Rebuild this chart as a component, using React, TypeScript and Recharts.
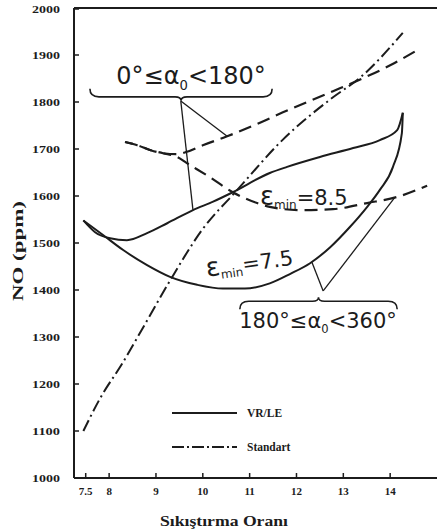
import { Legend, Line, LineChart, ReferenceDot, ReferenceLine, XAxis, YAxis } from "recharts";

type Pt = { x: number; y: number };
const pts = (rows: number[][]): Pt[] => rows.map(([x, y]) => ({ x, y }));

// Standart engine (dash-dot)
const standart = pts([
  [7.45, 1100], [7.81, 1170], [8.27, 1242], [8.81, 1335], [9.3, 1420], [10.0, 1530],
  [10.71, 1610], [11.71, 1720], [12.78, 1810], [13.36, 1852], [14.27, 1947],
]);

// VR/LE, two solid branches meeting at both ends
const vrUpper = pts([
  [7.45, 1548], [7.7, 1523], [8.02, 1510], [8.38, 1506], [8.81, 1521], [9.24, 1542],
  [9.79, 1570], [10.22, 1588], [10.64, 1608], [11.43, 1649], [11.8, 1662], [12.5, 1683],
  [13.21, 1702], [13.78, 1719], [14.15, 1740], [14.27, 1777],
]);
const vrLower = pts([
  [7.45, 1548], [7.87, 1517], [8.3, 1485], [8.81, 1453], [9.3, 1428], [9.88, 1411],
  [10.43, 1403], [10.9, 1403], [11.43, 1414], [11.86, 1434], [12.29, 1457],
  [12.72, 1491], [13.14, 1534], [13.51, 1577], [13.78, 1613], [14.06, 1662],
  [14.25, 1734], [14.27, 1777],
]);

// dashed branches (no legend entry)
const dashUpper = pts([
  [8.34, 1715], [8.6, 1708], [8.87, 1698], [9.15, 1691], [9.45, 1689], [9.66, 1694],
  [10.0, 1708], [10.52, 1727], [11.22, 1756], [11.71, 1778], [12.78, 1823],
  [13.36, 1848], [14.0, 1878], [14.59, 1911],
]);
const dashLower = pts([
  [8.34, 1715], [8.6, 1708], [8.87, 1698], [9.15, 1691], [9.45, 1683], [9.66, 1670],
  [10.15, 1640], [10.64, 1608], [11.16, 1585], [11.43, 1577], [12.07, 1570],
  [12.78, 1572], [13.51, 1585], [14.15, 1598], [14.79, 1622],
]);

const xTicks = [7.5, 8, 9, 10, 11, 12, 13, 14];
const yTicks = [1000, 1100, 1200, 1300, 1400, 1500, 1600, 1700, 1800, 1900, 2000];

const legendItems = [
  { name: "VR/LE", dash: undefined as string | undefined },
  { name: "Standart", dash: "12 3 2 3" },
];

const INK = "#1c1c1c";
const SERIF = '"Liberation Serif", "Times New Roman", serif';
const HAND = '"DejaVu Sans", sans-serif';
const DASHDOT = "12 4 2 4";
const DASH = "13 7";

function XTick({ x, y, payload }: any) {
  const ay = y - 4;
  return (
    <g>
      <line x1={x} y1={ay} x2={x} y2={ay - 5} stroke={INK} strokeWidth={1.5} />
      <text x={x} y={ay + 17} textAnchor="middle" fontFamily={SERIF} fontWeight="bold" fontSize={11} fill={INK}>
        {payload.value}
      </text>
    </g>
  );
}

function YTick({ x, y, payload }: any) {
  const ax = x + 14;
  return (
    <g>
      <line x1={ax} y1={y} x2={ax + 5} y2={y} stroke={INK} strokeWidth={1.5} />
      <text
        x={x}
        y={y}
        dy="0.35em"
        textAnchor="end"
        textLength={28}
        lengthAdjust="spacingAndGlyphs"
        fontFamily={SERIF}
        fontWeight="bold"
        fontSize={11}
        fill={INK}
      >
        {payload.value}
      </text>
    </g>
  );
}

// curly brace between the segment ends; dir=1 tip points down
const brace = (dir: number) => (p: any) => {
  const { x1, x2, y1: y } = p;
  const a = Math.min(x1, x2);
  const b = Math.max(x1, x2);
  const m = (a + b) / 2;
  const e = y - 8 * dir;
  const t = y + 4 * dir;
  const d = `M${a},${e} Q${a},${y} ${a + 9},${y} L${m - 6},${y} Q${m},${y} ${m},${t} Q${m},${y} ${m + 6},${y} L${b - 9},${y} Q${b},${y} ${b},${e}`;
  return <path d={d} fill="none" stroke={INK} strokeWidth={1.6} />;
};

const alphaLabel = (lo: string, hi: string, size: number) => (p: any) => (
  <text x={p.cx} y={p.cy} textAnchor="middle" fontFamily={HAND} fontSize={size} fill={INK}>
    <tspan>{lo}≤α</tspan>
    <tspan fontSize={size * 0.55} dy={size * 0.25}>0</tspan>
    <tspan dy={-size * 0.25}>{"<" + hi}</tspan>
  </text>
);

const epsLabel = (val: string, rot: number) => (p: any) => (
  <text
    x={p.cx}
    y={p.cy}
    fontFamily={HAND}
    fontSize={21}
    fill={INK}
    transform={`rotate(${rot} ${p.cx} ${p.cy})`}
  >
    <tspan fontSize={26}>ε</tspan>
    <tspan fontSize={12} dy={4}>min</tspan>
    <tspan dy={-4}>{"=" + val}</tspan>
  </text>
);

function LegendBox() {
  return (
    <svg width={140} height={60}>
      {legendItems.map((it, i) => (
        <g key={it.name}>
          <line x1={4} x2={69} y1={13 + i * 34} y2={13 + i * 34} stroke={INK} strokeWidth={2} strokeDasharray={it.dash} />
          <text x={79} y={17 + i * 34} fontFamily={SERIF} fontWeight="bold" fontSize={11.5} fill={INK}>
            {it.name}
          </text>
        </g>
      ))}
    </svg>
  );
}

export default function App() {
  return (
    <div style={{ position: "absolute", left: 0, top: 0, background: "#fff" }}>
      <LineChart width={437} height={529} margin={{ top: 8, right: 0, bottom: 0, left: 0 }}>
        <XAxis
          type="number"
          dataKey="x"
          domain={[7.25, 15]}
          ticks={xTicks}
          allowDataOverflow
          height={51}
          tickSize={0}
          tickMargin={4}
          tickLine={false}
          axisLine={{ stroke: INK, strokeWidth: 2 }}
          tick={XTick}
          label={{
            content: (p: any) => (
              <text
                x={p.viewBox.x + 150}
                y={p.viewBox.y + 48}
                textAnchor="middle"
                textLength={128}
                lengthAdjust="spacingAndGlyphs"
                fontFamily={SERIF}
                fontWeight="bold"
                fontSize={15}
                fill={INK}
              >
                Sıkıştırma Oranı
              </text>
            ),
          }}
        />
        <YAxis
          type="number"
          domain={[1000, 2000]}
          ticks={yTicks}
          allowDataOverflow
          width={74}
          tickSize={0}
          tickMargin={14}
          tickLine={false}
          axisLine={{ stroke: INK, strokeWidth: 2 }}
          tick={YTick}
          label={{
            content: (p: any) => {
              const cx = p.viewBox.x + 23;
              const cy = p.viewBox.y + p.viewBox.height / 2 + 8;
              return (
                <text
                  x={cx}
                  y={cy}
                  textAnchor="middle"
                  transform={`rotate(-90 ${cx} ${cy})`}
                  textLength={100}
                  lengthAdjust="spacingAndGlyphs"
                  fontFamily={SERIF}
                  fontWeight="bold"
                  fontSize={15}
                  fill={INK}
                >
                  NO (ppm)
                </text>
              );
            },
          }}
        />
        <ReferenceLine y={2000} stroke={INK} strokeWidth={2} />

        <Line data={standart} dataKey="y" type="monotone" stroke={INK} strokeWidth={2} strokeDasharray={DASHDOT} dot={false} isAnimationActive={false} legendType="none" />
        <Line data={vrUpper} dataKey="y" type="monotone" stroke={INK} strokeWidth={2} dot={false} isAnimationActive={false} legendType="none" />
        <Line data={vrLower} dataKey="y" type="monotone" stroke={INK} strokeWidth={2} dot={false} isAnimationActive={false} legendType="none" />
        <Line data={dashUpper} dataKey="y" type="monotone" stroke={INK} strokeWidth={2.2} strokeDasharray={DASH} dot={false} isAnimationActive={false} legendType="none" />
        <Line data={dashLower} dataKey="y" type="monotone" stroke={INK} strokeWidth={2.2} strokeDasharray={DASH} strokeDashoffset={5} dot={false} isAnimationActive={false} legendType="none" />

        {/* 0° ≤ α0 < 180° annotation */}
        <ReferenceLine segment={[{ x: 7.59, y: 1811 }, { x: 11.48, y: 1811 }]} ifOverflow="visible" shape={brace(1)} />
        <ReferenceLine segment={[{ x: 9.53, y: 1802 }, { x: 9.79, y: 1570 }]} stroke={INK} strokeWidth={1.3} ifOverflow="visible" />
        <ReferenceLine segment={[{ x: 9.53, y: 1802 }, { x: 10.52, y: 1727 }]} stroke={INK} strokeWidth={1.3} ifOverflow="visible" />
        <ReferenceDot x={9.75} y={1838} ifOverflow="visible" shape={alphaLabel("0°", "180°", 24)} />

        {/* 180° ≤ α0 < 360° annotation */}
        <ReferenceLine segment={[{ x: 10.79, y: 1376 }, { x: 14.15, y: 1376 }]} ifOverflow="visible" shape={brace(-1)} />
        <ReferenceLine segment={[{ x: 12.57, y: 1398 }, { x: 12.33, y: 1459 }]} stroke={INK} strokeWidth={1.3} ifOverflow="visible" />
        <ReferenceLine segment={[{ x: 12.57, y: 1398 }, { x: 14.1, y: 1597 }]} stroke={INK} strokeWidth={1.3} ifOverflow="visible" />
        <ReferenceDot x={12.46} y={1319} ifOverflow="visible" shape={alphaLabel("180°", "360°", 21)} />

        <ReferenceDot x={11.22} y={1581} ifOverflow="visible" shape={epsLabel("8.5", 0)} />
        <ReferenceDot x={10.09} y={1428} ifOverflow="visible" shape={epsLabel("7.5", -8)} />

        <Legend
          layout="horizontal"
          verticalAlign="middle"
          align="center"
          wrapperStyle={{ left: 168, top: 400, width: 140, height: 60 }}
          content={() => <LegendBox />}
        />
      </LineChart>
    </div>
  );
}
